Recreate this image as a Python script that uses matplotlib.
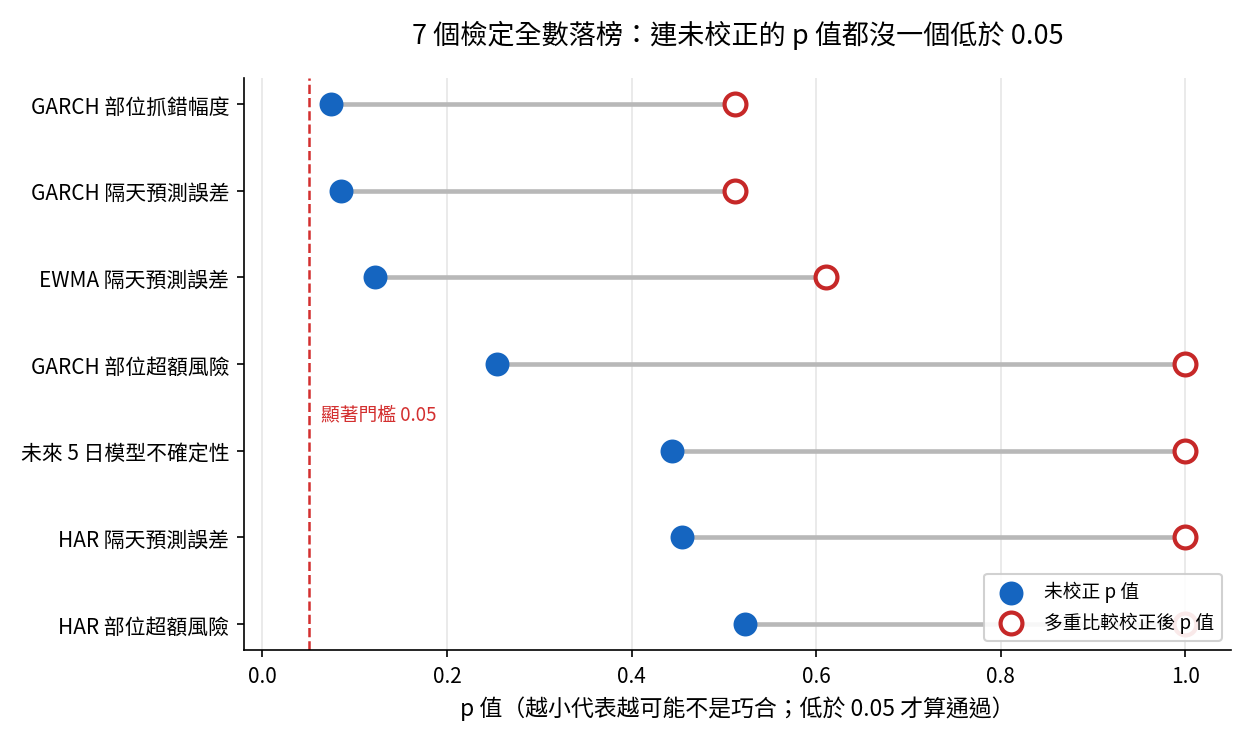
import numpy as np
import matplotlib.pyplot as plt

plt.rcParams['font.family'] = ['Noto Sans CJK TC', 'DejaVu Sans']

# 資料（由上到下）
labels = ['GARCH 部位抓錯幅度', 'GARCH 隔天預測誤差', 'EWMA 隔天預測誤差',
          'GARCH 部位超額風險', '未來 5 日模型不確定性', 'HAR 隔天預測誤差',
          'HAR 部位超額風險']
p_raw = [0.074, 0.085, 0.122, 0.254, 0.444, 0.455, 0.523]
p_adj = [0.512, 0.512, 0.611, 1.0, 1.0, 1.0, 1.0]
alpha = 0.05

fig = plt.figure(figsize=(8.3, 4.873), dpi=150)
ax = fig.add_axes([0.196, 0.1094, 0.793, 0.7826])

y = np.arange(len(labels))
ax.hlines(y, p_raw, p_adj, color='#b8b8b8', lw=2.2, zorder=1)
ax.scatter(p_raw, y, s=110, color='#1565c0', zorder=3, label='未校正 p 值')
ax.scatter(p_adj, y, s=110, facecolor='white', edgecolor='#c62828',
           linewidth=2, zorder=3, label='多重比較校正後 p 值')

ax.axvline(alpha, color='#d32f2f', ls='--', lw=1.2, zorder=2)
ax.text(alpha + 0.013, 3.58, '顯著門檻 0.05', color='#d32f2f', fontsize=9,
        va='center')

ax.set_yticks(y)
ax.set_yticklabels(labels, fontsize=10)
ax.invert_yaxis()
ax.set_xlim(-0.02, 1.05)
ax.tick_params(axis='x', labelsize=10)
ax.grid(axis='x', color='#e6e6e6', lw=0.8)
ax.set_axisbelow(True)
for s in ['top', 'right']:
    ax.spines[s].set_visible(False)

ax.set_xlabel('p 值（越小代表越可能不是巧合；低於 0.05 才算通過）', fontsize=11)
ax.set_title('7 個檢定全數落榜：連未校正的 p 值都沒一個低於 0.05', fontsize=13, pad=17)
ax.legend(loc='lower right', fontsize=9, framealpha=0.9)

fig.savefig('out.png', dpi=150)
